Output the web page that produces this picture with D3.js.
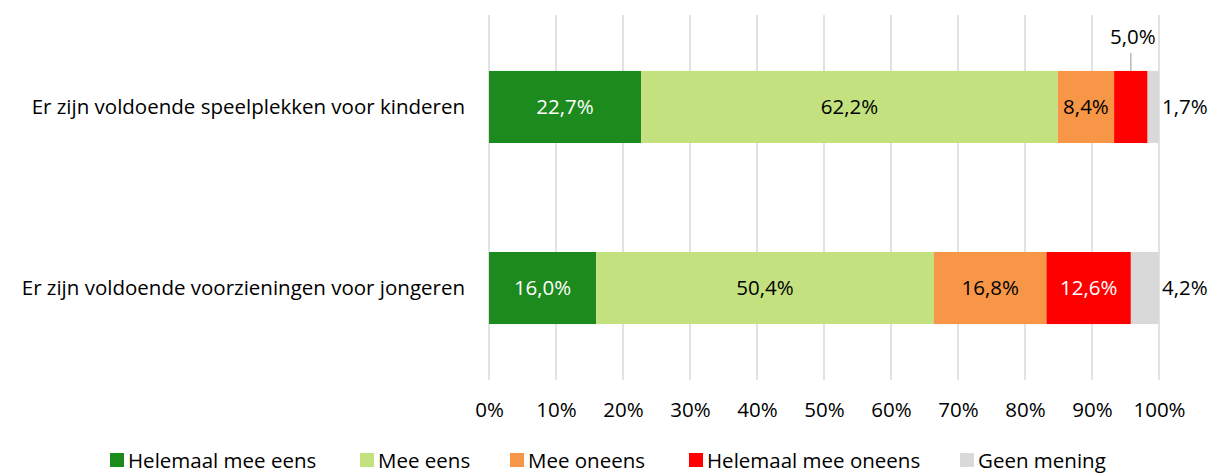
<!DOCTYPE html>
<html>
<head>
<meta charset="utf-8">
<script src="https://cdn.jsdelivr.net/npm/d3@7"></script>
<style>
  body { margin: 0; background: #fff; }
  svg text { font-family: "Open Sans", sans-serif; }
</style>
</head>
<body>
<svg id="chart" width="1210" height="474"></svg>
<script>
// data
const categories = [
  "Er zijn voldoende speelplekken voor kinderen",
  "Er zijn voldoende voorzieningen voor jongeren"
];
const series = ["Helemaal mee eens", "Mee eens", "Mee oneens", "Helemaal mee oneens", "Geen mening"];
const colors = ["#1c8a1c", "#c3e17f", "#f79646", "#ff0000", "#d9d9d9"];
const values = [
  [22.7, 62.2, 8.4, 5.0, 1.7],
  [16.0, 50.4, 16.8, 12.6, 4.2]
];
const ticks = [0, 10, 20, 30, 40, 50, 60, 70, 80, 90, 100];

const svg = d3.select("#chart");
const margin = {left: 489, right: 51, top: 15, bottom: 94};
const width = 1210 - margin.left - margin.right;
const height = 474 - margin.top - margin.bottom;
const fs = 20.5;

const x = d3.scaleLinear().domain([0, 100]).range([0, width]);
const y = d3.scaleBand().domain(categories).range([0, height]).paddingInner(0.602).paddingOuter(0.309);

const g = svg.append("g").attr("transform", `translate(${margin.left},${margin.top})`);

// gridlines
g.append("g")
  .selectAll("line")
  .data(ticks)
  .enter()
  .append("line")
  .attr("x1", d => x(d))
  .attr("x2", d => x(d))
  .attr("y1", 0)
  .attr("y2", height)
  .attr("stroke", "#d9d9d9")
  .attr("stroke-width", 1.5);

// x axis labels
const xAxis = d3.axisBottom(x).tickValues(ticks).tickSize(0).tickPadding(0).tickFormat(d => d + "%");
g.append("g")
  .attr("transform", `translate(0,${height + 22})`)
  .call(xAxis)
  .call(a => a.select(".domain").remove())
  .selectAll("text")
  .attr("font-size", fs)
  .attr("fill", "#000")
  .attr("font-family", "'Open Sans', sans-serif");

// category labels
g.append("g")
  .selectAll("text")
  .data(categories)
  .enter()
  .append("text")
  .attr("x", -24)
  .attr("y", d => y(d) + y.bandwidth() / 2)
  .attr("dy", ".35em")
  .attr("text-anchor", "end")
  .attr("font-size", fs)
  .text(d => d);

// stacked segments
const rows = values.map((vals, i) => {
  let acc = 0;
  return vals.map((v, j) => {
    const seg = {cat: categories[i], j: j, v: v, x0: acc, x1: acc + v};
    acc += v;
    return seg;
  });
});

const fmt = v => v.toFixed(1).replace(".", ",") + "%";

rows.forEach(segs => {
  const row = g.append("g");
  row.selectAll("rect")
    .data(segs)
    .enter()
    .append("rect")
    .attr("x", d => x(d.x0))
    .attr("y", d => y(d.cat))
    .attr("width", d => x(d.x1) - x(d.x0))
    .attr("height", y.bandwidth())
    .attr("fill", d => colors[d.j]);

  row.selectAll("text")
    .data(segs)
    .enter()
    .append("text")
    .attr("font-size", fs)
    .attr("dy", ".35em")
    .each(function(d) {
      const t = d3.select(this);
      const cy = y(d.cat) + y.bandwidth() / 2;
      const w = x(d.x1) - x(d.x0);
      if (d.j === 4) {
        // outside to the right
        t.attr("x", x(d.x1) + 3).attr("y", cy).attr("text-anchor", "start").attr("fill", "#000");
      } else if (w < 45) {
        // too narrow: label above with leader line
        const cx = x(d.x0) + w / 2;
        t.attr("x", cx + 2).attr("y", y(d.cat) - 34).attr("text-anchor", "middle").attr("fill", "#000");
        row.append("line")
          .attr("x1", cx).attr("x2", cx)
          .attr("y1", y(d.cat)).attr("y2", y(d.cat) - 18)
          .attr("stroke", "#a6a6a6").attr("stroke-width", 1.2);
      } else {
        t.attr("x", x(d.x0) + w / 2).attr("y", cy).attr("text-anchor", "middle")
          .attr("fill", (d.j === 0 || d.j === 3) ? "#fff" : "#000");
      }
    })
    .text(d => fmt(d.v));
});

// legend
const legendX = [110, 360, 510, 689, 960];
const legend = svg.append("g").attr("transform", "translate(0,453)");
const items = legend.selectAll("g")
  .data(series)
  .enter()
  .append("g")
  .attr("transform", (d, i) => `translate(${legendX[i]},0)`);
items.append("rect")
  .attr("width", 14)
  .attr("height", 14)
  .attr("fill", (d, i) => colors[i]);
items.append("text")
  .attr("x", 18)
  .attr("y", 7)
  .attr("dy", ".38em")
  .attr("font-size", fs)
  .text(d => d);
</script>
</body>
</html>
